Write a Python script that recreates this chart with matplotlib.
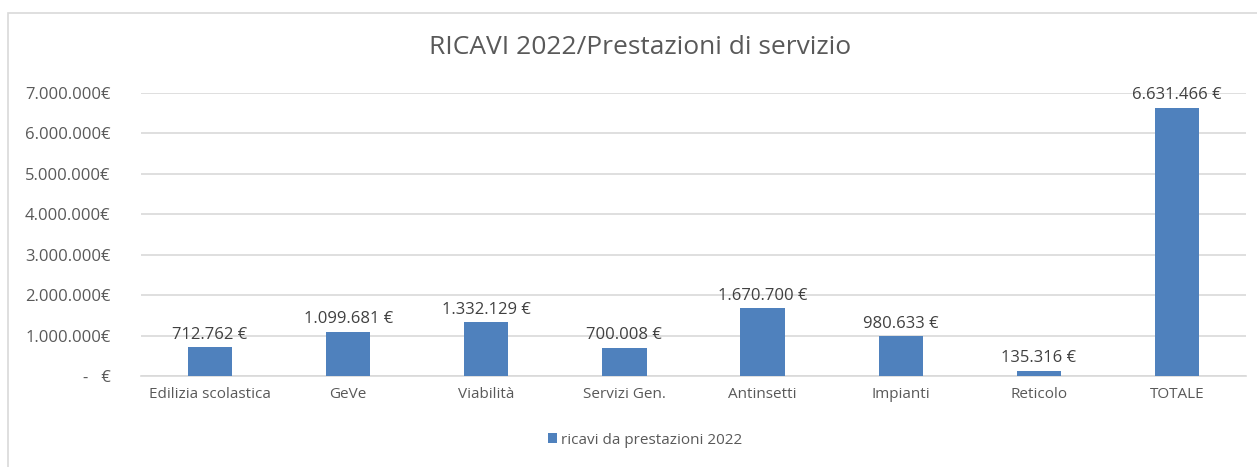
import numpy as np
import matplotlib
matplotlib.use('Agg')
import matplotlib.pyplot as plt
from matplotlib.patches import Rectangle

# data
categories = ['Edilizia scolastica', 'GeVe', 'Viabilità', 'Servizi Gen.',
              'Antinsetti', 'Impianti', 'Reticolo', 'TOTALE']
ricavi = [712762, 1099681, 1332129, 700008, 1670700, 980633, 135316, 6631466]
yticks = [0, 1000000, 2000000, 3000000, 4000000, 5000000, 6000000, 7000000]
series_name = 'ricavi da prestazioni 2022'

plt.rcParams['font.family'] = ['Open Sans', 'DejaVu Sans']
grey = '#595959'
blue = '#4f81bd'

def euro(v):
    return '{:,}'.format(v).replace(',', '.') + ' €'

W, H = 1257, 467
fig = plt.figure(figsize=(W/100, H/100), dpi=100)
# chart frame
fig.patches.append(Rectangle((8/W, -0.01), 1.1, (H-13)/H + 0.01, transform=fig.transFigure,
                             fill=False, edgecolor='#d9d9d9', linewidth=1.2))

ax = fig.add_axes([141/W, 1-376/H, (1246-141)/W, (376-93)/H])
x = np.arange(len(categories))
bars = ax.bar(x, ricavi, width=0.32, color=blue, zorder=3, label=series_name)
for xi, v in zip(x, ricavi):
    ax.text(xi, v + 110000, euro(v), ha='center', va='bottom', fontsize=12, color='#404040')

ax.set_xlim(-0.5, len(categories) - 0.5)
ax.set_ylim(0, 7000000)
ax.set_yticks(yticks)
ax.set_yticklabels(['-   €' if t == 0 else euro(t).replace(' €', '€') for t in yticks])
ax.set_xticks(x)
ax.set_xticklabels(categories)
ax.tick_params(axis='both', length=0, labelsize=11, colors=grey)
ax.tick_params(axis='y', labelsize=12, pad=22)
ax.tick_params(axis='x', pad=8)
for lab in ax.get_yticklabels():
    lab.set_horizontalalignment('right')
ax.grid(axis='y', color='#d9d9d9', linewidth=1.2, zorder=0)
for s in ['top', 'right', 'left']:
    ax.spines[s].set_visible(False)
ax.spines['bottom'].set_color('#d9d9d9')
ax.spines['bottom'].set_linewidth(1.2)

fig.text(640/W, 1-48/H, 'RICAVI 2022/Prestazioni di servizio', ha='center', va='center',
         fontsize=19, color=grey)
fig.legend(handles=[bars], loc='center', bbox_to_anchor=(645/W, 1-440/H), frameon=False,
           fontsize=11, labelcolor=grey, handlelength=0.6, handleheight=0.6, handletextpad=0.3)

plt.savefig('out.png', dpi=100)
